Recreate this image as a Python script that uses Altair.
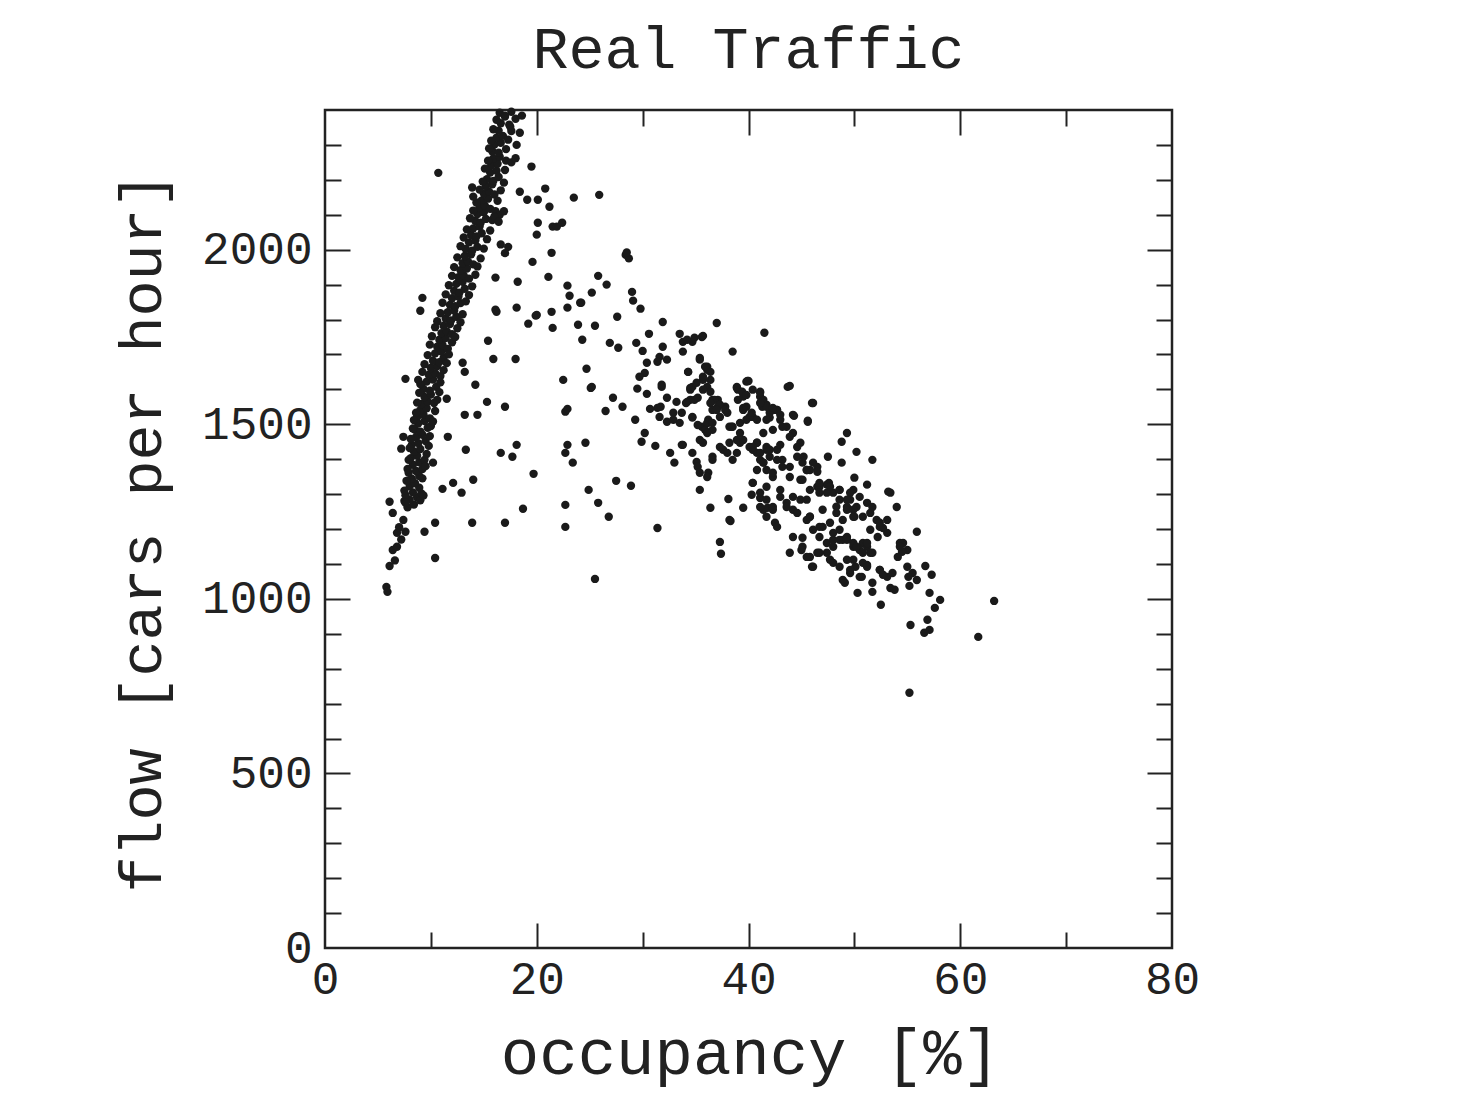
import altair as alt
import pandas as pd

# ---------------- data ----------------
# free-flow branch (dense band + lower tail)
ff_x = [5.8, 5.9, 6.1, 6.6, 6.4, 6.8, 7.2, 6.8, 7.6, 7.0, 7.4, 6.4, 6.1, 7.5,
        7.8, 8.4, 8.0, 8.7, 7.6, 8.3, 9.1, 8.9, 8.0, 8.5, 8.2, 8.9, 7.9, 8.6, 9.2, 8.3,
        8.9, 8.1, 8.7, 9.4, 8.4, 9.0, 8.2, 8.8, 9.5, 8.6, 9.2, 8.5, 9.0, 9.7, 8.8, 9.4,
        8.7, 9.3, 9.9, 9.0, 9.6, 9.1, 9.7, 10.3, 9.4, 10.0, 9.3, 9.9, 10.5, 9.6, 10.2,
        9.8, 10.4, 10.9, 10.0, 10.6, 10.2, 10.8, 11.2, 10.4, 11.0, 10.6, 11.1, 11.6,
        10.8, 11.4, 11.0, 11.5, 12.0, 11.2, 11.8, 11.4, 11.9, 12.4, 11.6, 12.2, 11.8,
        12.3, 12.8, 12.0, 12.6, 12.2, 12.7, 13.2, 12.4, 13.0, 12.6, 13.1, 13.6, 12.8,
        13.4, 13.0, 13.5, 14.0, 13.2, 13.8, 13.3, 13.9, 14.4, 13.6, 14.2, 13.8, 14.3,
        14.8, 14.0, 14.6, 14.2, 14.7, 15.2, 14.4, 15.0, 14.6, 15.1, 15.6, 14.8, 15.4,
        15.0, 15.5, 16.0, 15.2, 15.8, 15.3, 15.9, 16.4, 15.6, 16.2, 15.7, 16.3, 15.9,
        16.5, 15.8, 16.4, 16.0, 16.6, 16.2, 16.8, 16.4, 16.6, 17.4, 17.0, 17.6,
        # band edges
        7.6, 9.0, 7.5, 9.3, 7.7, 9.2, 7.8, 9.5, 7.9, 9.6, 8.0, 9.8, 8.1, 9.9, 8.3, 10.0,
        8.4, 10.2, 8.6, 10.4, 8.7, 10.6, 8.9, 10.8, 9.0, 10.9, 9.2, 11.2, 9.4, 11.5,
        9.7, 11.7, 9.9, 12.0, 10.1, 12.3, 10.4, 12.5, 10.6, 12.8, 10.9, 13.0, 11.1, 13.3,
        11.4, 13.6, 11.7, 13.9, 12.0, 14.2, 12.2, 14.4, 12.5, 14.7, 12.8, 15.0, 13.1, 15.3,
        13.4, 15.6, 13.7, 15.8, 14.0, 16.1, 14.3, 16.3, 14.6, 16.6, 14.9, 16.9, 15.1, 17.0,
        15.4, 17.1, 15.5, 17.1, 15.7, 17.3, 15.9, 17.6, 16.2, 18.0, 16.5]
ff_y = [1034, 1020, 1094, 1110, 1140, 1149, 1170, 1189, 1192, 1205, 1226, 1246, 1278, 1280,
        1262, 1270, 1284, 1291, 1297, 1305, 1302, 1318, 1323, 1331, 1344, 1352, 1361, 1366,
        1372, 1384, 1391, 1403, 1410, 1398, 1422, 1429, 1441, 1446, 1452, 1463, 1470, 1484,
        1479, 1490, 1502, 1509, 1521, 1528, 1517, 1540, 1546, 1558, 1565, 1561, 1578, 1585,
        1601, 1596, 1607, 1622, 1628, 1642, 1646, 1638, 1661, 1667, 1682, 1678, 1690, 1703,
        1708, 1722, 1727, 1716, 1742, 1747, 1761, 1766, 1758, 1782, 1787, 1803, 1797, 1808,
        1821, 1826, 1842, 1838, 1847, 1861, 1866, 1882, 1877, 1888, 1902, 1908, 1921, 1926,
        1917, 1941, 1946, 1961, 1966, 1958, 1982, 1987, 2002, 1997, 2008, 2021, 2026, 2042,
        2038, 2047, 2061, 2066, 2082, 2077, 2088, 2102, 2107, 2121, 2126, 2117, 2141, 2146,
        2161, 2166, 2158, 2182, 2187, 2202, 2197, 2208, 2221, 2226, 2242, 2246, 2261, 2266,
        2282, 2278, 2301, 2306, 2321, 2326, 2341, 2362, 2358, 2381, 2395,
        # band edges
        1275, 1282, 1310, 1296, 1338, 1345, 1372, 1380, 1398, 1415, 1432, 1438, 1458, 1466,
        1488, 1495, 1512, 1508, 1533, 1538, 1562, 1570, 1590, 1592, 1615, 1620, 1650, 1655,
        1672, 1675, 1698, 1700, 1728, 1735, 1752, 1750, 1778, 1775, 1795, 1792, 1818, 1815,
        1848, 1852, 1872, 1870, 1898, 1895, 1925, 1928, 1950, 1952, 1978, 1975, 2010, 2003,
        2035, 2030, 2058, 2055, 2090, 2085, 2112, 2110, 2135, 2140, 2172, 2170, 2195, 2192,
        2232, 2228, 2255, 2255, 2290, 2288, 2312, 2315, 2345, 2340, 2372, 2375, 2392]

# transition region (scattered points between the branches)
tr_x = [9.0, 9.2, 10.7, 16.2, 18.1, 19.9, 21.4, 19.2, 21.5, 22.9, 24.1, 23.9, 24.3, 25.5,
        15.4, 15.9, 18.0, 13.0, 13.2, 14.2, 15.3, 17.0, 11.5, 13.2, 14.4, 7.6, 8.8, 11.6,
        13.3, 16.6, 17.7, 18.1, 19.7, 22.5, 22.7, 24.7, 25.2, 22.9, 22.7, 23.4, 24.6, 10.2,
        11.1, 12.1, 12.9, 14.0, 7.2, 7.4, 10.4, 9.4, 13.9, 17.0, 18.7, 22.7, 22.7, 24.9,
        25.8, 10.4, 25.5,
        17.0, 18.6, 17.5, 18.4, 18.1, 19.5, 18.4, 19.1, 20.8, 20.1, 21.2, 20.1, 20.0, 21.5,
        21.4, 21.1, 19.6, 18.2, 16.1, 16.5, 16.0, 16.9, 16.4, 17.3, 16.6, 17.0, 16.1, 20.0,
        13.9, 14.0, 17.6, 18.0,
        23.5, 25.9, 21.9, 22.4, 28.4, 28.7, 28.5, 25.8, 26.6, 22.9, 23.1, 24.2, 25.2, 29.0,
        29.1, 29.8, 27.6, 26.9, 27.7, 25.1, 27.2, 28.1, 26.5, 22.9, 26.8, 27.5, 28.9, 31.4]
tr_y = [1825, 1862, 2220, 1822, 1834, 1811, 1822, 1788, 1776, 1834, 1848, 1785, 1742, 1782,
        1739, 1687, 1687, 1676, 1650, 1613, 1564, 1550, 1573, 1527, 1527, 1630, 1627, 1464,
        1427, 1418, 1407, 1441, 1358, 1627, 1536, 1659, 1607, 1441, 1418, 1390, 1447, 1390,
        1315, 1332, 1304, 1341, 1430, 1464, 1218, 1192, 1218, 1218, 1258, 1269, 1206, 1312,
        1275, 1117, 1057,
        2384, 2384, 2352, 2335, 2300, 2238, 2166, 2143, 2175, 2143, 2123, 2077, 2043, 2066,
        1991, 1922, 1965, 1908, 1920, 2100, 2095, 2110, 2080, 2008, 2015, 1990, 1828, 1813,
        2178, 2152, 2250, 2262,
        2149, 2157, 2066, 2077, 1985, 1975, 1992, 1925, 1900, 1897, 1868, 1848, 1877, 1879,
        1854, 1831, 1808, 1733, 1719, 1604, 1576, 1550, 1538, 1544, 1235, 1338, 1324, 1203]

# congested branch
cg_x = [29.4, 30.0, 30.6, 31.9, 33.5, 33.8, 34.7, 35.6, 37.0, 41.5, 38.5, 31.9, 31.6, 30.4,
        30.2, 31.4, 32.3, 33.8, 35.4, 36.1, 35.7, 34.3, 29.5, 30.4, 31.8, 34.5, 34.9, 34.2,
        32.3, 33.2, 31.4, 29.3, 30.7, 31.6, 32.3, 32.9, 33.5, 34.7, 35.6, 36.2, 36.6, 37.1,
        38.0, 39.0, 39.8, 40.4, 41.1, 41.7, 42.5, 38.2, 39.2, 40.1, 40.8, 41.7, 30.2, 29.9,
        31.2, 33.8, 35.7, 32.6, 34.7, 36.6, 37.6, 38.9,
        33.0, 35.1, 35.2, 36.2, 36.1, 35.4, 36.4, 37.3, 37.4, 38.1, 38.3, 39.5, 40.4, 40.3,
        41.1, 41.4, 41.8, 42.5, 37.3, 38.0, 38.5, 39.2, 40.4, 41.1, 41.7, 42.3,
        43.7, 46.1, 45.6, 44.3, 49.3, 48.8, 50.2, 51.7, 47.5, 48.8, 40.0, 38.9, 39.5, 41.1,
        41.4, 36.1, 36.4, 36.1, 37.1, 36.6, 37.8, 37.3, 36.2, 35.9, 38.4, 38.9, 39.5, 39.8,
        40.4, 41.3, 42.0, 42.7, 43.0, 43.6, 44.2, 44.9, 40.1, 40.8, 41.4, 42.0, 42.7, 43.2,
        43.9, 44.6, 45.1, 45.8, 46.5, 41.1, 41.7, 42.3, 43.0, 43.6, 44.2, 44.9, 46.5, 47.4,
        48.0, 48.6, 49.3, 49.9, 50.5, 51.2, 53.4, 54.0, 53.1, 55.9, 54.3, 55.0, 38.2, 35.4,
        36.6, 45.8, 47.0, 48.0, 48.9, 49.9, 50.8, 51.7, 44.2, 45.1, 46.5, 43.9, 42.7, 41.7,
        52.4, 53.1,
        54.6, 54.5, 54.1, 52.7, 52.2, 56.7, 57.3, 55.5, 55.9, 55.2, 55.1, 57.1, 58.1, 57.6,
        56.9, 57.1, 56.6, 55.3, 63.2, 61.7, 55.2, 52.5, 50.3, 51.7, 53.4, 53.8, 49.1, 49.6,
        50.7, 50.1, 51.2, 52.4, 53.1, 45.5, 46.1, 45.1, 45.8, 46.7, 47.4, 48.6, 47.6, 49.6,
        50.2, 51.5, 52.1, 49.9, 48.9, 45.5, 46.1, 46.7, 47.4, 48.0, 48.6, 49.3, 49.9, 50.5,
        51.2, 51.5, 45.8, 46.0, 47.4, 48.0, 49.3, 49.6, 50.8, 45.0, 45.1]
cg_y = [1733, 1710, 1759, 1793, 1759, 1736, 1736, 1750, 1790, 1762, 1708, 1722, 1693, 1676,
        1647, 1679, 1685, 1708, 1685, 1656, 1627, 1650, 1602, 1587, 1607, 1604, 1570, 1564,
        1576, 1564, 1547, 1513, 1544, 1521, 1507, 1533, 1504, 1521, 1493, 1513, 1570, 1550,
        1533, 1599, 1622, 1599, 1579, 1556, 1541, 1493, 1504, 1521, 1447, 1435, 1475, 1450,
        1438, 1441, 1447, 1418, 1418, 1407, 1427, 1418,
        1390, 1392, 1378, 1361, 1349, 1312, 1261, 1163, 1129, 1286, 1223, 1261, 1332, 1298,
        1289, 1255, 1261, 1218, 1435, 1418, 1398, 1447, 1427, 1398, 1369, 1349,
        1607, 1561, 1510, 1524, 1475, 1450, 1421, 1398, 1407, 1390, 1624, 1604, 1579, 1593,
        1570, 1665, 1650, 1607, 1570, 1541, 1550, 1521, 1504, 1484, 1493, 1455, 1541, 1513,
        1521, 1550, 1533, 1541, 1513, 1493, 1475, 1447, 1435, 1418, 1390, 1407, 1427, 1398,
        1378, 1407, 1390, 1369, 1378, 1304, 1284, 1263, 1292, 1275, 1255, 1284, 1321, 1327,
        1304, 1284, 1263, 1312, 1292, 1275, 1304, 1263, 1226, 1192, 1160, 1140, 1226, 1361,
        1398, 1235, 1206, 1189, 1169, 1149, 1160, 1132, 1177, 1149, 1132, 1132, 1206, 1235,
        1206, 1189,
        1160, 1135, 1120, 1203, 1177, 1094, 1069, 1074, 1054, 1037, 1063, 1017, 997, 974,
        940, 911, 903, 925, 994, 891, 731, 983, 1017, 1020, 1031, 1026, 1046, 1074,
        1063, 1092, 1097, 1083, 1063, 1369, 1390, 1341, 1312, 1321, 1304, 1312, 1332, 1284,
        1263, 1246, 1226, 1235, 1226, 1226, 1198, 1177, 1160, 1149, 1169, 1177, 1160, 1140,
        1149, 1132, 1120, 1092, 1132, 1103, 1112, 1083, 1103, 1140, 1175]

# congested branch, extra points from close-up reading of the dense core
cg2_x = [34.2, 34.9, 35.7, 35.4, 35.9, 34.3, 35.7, 36.4, 39.9, 43.9, 34.7, 34.5, 35.2, 36.4,
         38.9, 39.4, 39.0, 39.8, 41.1, 41.3, 41.7, 36.8, 37.3, 37.8, 39.5, 40.3, 40.8, 42.0,
         42.7, 43.0, 34.7, 35.2, 36.1, 36.6, 35.4, 38.5, 39.2, 39.5, 38.2, 40.8, 41.4, 42.3,
         43.2, 43.9, 43.0, 41.7,
         39.8, 41.1, 42.3, 41.7, 44.2, 45.6, 46.0, 44.6, 45.2, 40.4, 41.1, 42.0, 42.7, 41.4,
         40.8, 42.3, 43.2, 43.9, 44.9, 45.5, 46.5, 40.4, 41.7, 43.0, 44.2, 45.5, 46.7, 47.7,
         48.6, 49.6, 41.1, 42.3, 43.6, 44.6, 45.8, 47.0, 48.3, 49.3, 50.0,
         46.7, 48.3, 49.3, 50.0, 51.2, 53.2, 49.9, 50.8, 51.7, 52.4, 51.5, 46.7, 47.7, 48.6,
         48.0, 49.3, 50.2, 51.2, 50.8, 45.5, 46.7, 47.7, 46.1, 48.6, 49.9, 51.2, 52.4, 53.6,
         55.0, 54.3, 48.9, 50.5, 51.7, 52.7,
         29.7, 31.8, 35.1, 35.7, 34.5, 31.7, 34.1, 32.9, 33.7, 36.1, 36.6, 37.0, 36.4, 33.7]
cg2_y = [1742, 1748, 1753, 1690, 1665, 1650, 1636, 1627, 1624, 1610, 1607, 1570, 1576, 1593,
         1607, 1593, 1570, 1584, 1590, 1564, 1550, 1570, 1556, 1541, 1547, 1533, 1513, 1519,
         1541, 1527, 1519, 1498, 1504, 1484, 1455, 1493, 1475, 1455, 1447, 1447, 1475, 1484,
         1493, 1464, 1441, 1427,
         1550, 1561, 1547, 1513, 1527, 1507, 1561, 1435, 1407, 1435, 1418, 1427, 1398, 1390,
         1369, 1361, 1378, 1349, 1341, 1369, 1364, 1332, 1321, 1312, 1292, 1284, 1304, 1321,
         1312, 1304, 1263, 1255, 1263, 1246, 1235, 1255, 1246, 1255, 1235,
         1332, 1264, 1284, 1347, 1327, 1307, 1255, 1235, 1263, 1218, 1198, 1206, 1218, 1198,
         1169, 1169, 1149, 1160, 1132, 1120, 1132, 1112, 1092, 1092, 1112, 1092, 1083, 1074,
         1092, 1149, 1054, 1063, 1046, 1069,
         1636, 1613, 1619, 1599, 1599, 1550, 1561, 1513, 1533, 1475, 1504, 1541, 1561, 1441]

# axis tick values
x_labels = [0, 20, 40, 60, 80]
x_major = [20, 40, 60]
x_minor = [10, 30, 50, 70]
y_labels = [0, 500, 1000, 1500, 2000]
y_major = [500, 1000, 1500, 2000]
y_minor = [100, 200, 300, 400, 600, 700, 800, 900, 1100, 1200, 1300, 1400,
           1600, 1700, 1800, 1900, 2100, 2200, 2300]

df = pd.DataFrame({
    "occ": ff_x + tr_x + cg_x + cg2_x,
    "flow": ff_y + tr_y + cg_y + cg2_y,
})

W, H = 847, 838
FONT = "Liberation Mono"
INK = "#222222"

xs = alt.Scale(domain=[0, 80], nice=False, zero=False)
ys = alt.Scale(domain=[0, 2400], nice=False, zero=False)

points = alt.Chart(df).mark_circle(size=70, color="#1a1a1a", opacity=1).encode(
    x=alt.X("occ:Q", scale=xs, axis=alt.Axis(
        values=x_labels, format="d", ticks=False, tickSize=0, domain=False, grid=False,
        labelFlush=False, labelFont=FONT, labelFontSize=46, labelPadding=9,
        labelColor=INK,
        title="occupancy [%]", titleFont=FONT, titleFontSize=64,
        titleFontWeight="normal", titleColor=INK, titleX=425, titleY=125,
        titleBaseline="alphabetic", titleAlign="center")),
    y=alt.Y("flow:Q", scale=ys, axis=alt.Axis(
        values=y_labels, format="d", ticks=False, tickSize=0, domain=False, grid=False,
        labelFlush=False, labelFont=FONT, labelFontSize=46, labelPadding=13,
        labelColor=INK,
        title="flow [cars per hour]", titleFont=FONT, titleFontSize=60,
        titleFontWeight="normal", titleColor=INK, titleX=-165, titleY=422,
        titleAngle=270, titleBaseline="alphabetic", titleAlign="center")),
)


def tick_layer(xvals, xorient, yvals, yorient, size):
    common = dict(labels=False, domain=False, grid=False, title=None,
                  tickColor=INK, tickWidth=2)
    return alt.Chart(df).mark_point(opacity=0).encode(
        x=alt.X("occ:Q", scale=xs, axis=alt.Axis(
            orient=xorient, offset=-H, values=xvals, tickSize=size, **common)),
        y=alt.Y("flow:Q", scale=ys, axis=alt.Axis(
            orient=yorient, offset=-W, values=yvals, tickSize=size, **common)),
    )


chart = alt.layer(
    tick_layer(x_major, "top", y_major, "right", 25),
    tick_layer(x_minor, "top", y_minor, "right", 16),
    tick_layer(x_major, "bottom", y_major, "left", 25),
    tick_layer(x_minor, "bottom", y_minor, "left", 16),
    points,
).resolve_axis(x="independent", y="independent").properties(
    width=W, height=H,
    title=alt.Title("Real Traffic", font=FONT, fontSize=60, fontWeight="normal",
                    color=INK, anchor="middle", offset=-20, baseline="alphabetic"),
    autosize=alt.AutoSizeParams(type="none"),
    padding={"left": 317, "top": 102, "right": 280, "bottom": 160},
).configure_view(stroke=INK, strokeWidth=2.5)

chart.save("out.html", embed_options={"renderer": "svg", "actions": False})
